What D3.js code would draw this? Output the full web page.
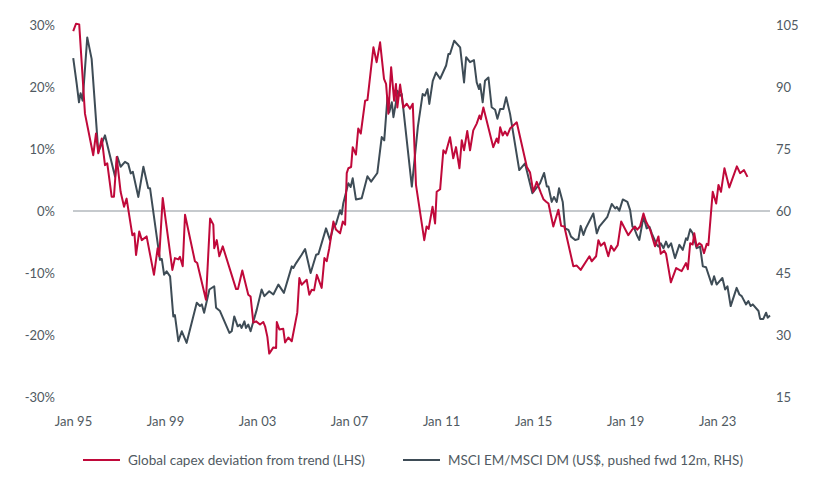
<!DOCTYPE html>
<html><head><meta charset="utf-8">
<script src="https://cdn.jsdelivr.net/npm/d3@7"></script>
<style>
html,body{margin:0;padding:0;background:#fff;}
svg text{font-family:Lato,"Open Sans",sans-serif;fill:#505a62;}
</style></head>
<body>
<svg id="chart" width="821" height="486"></svg>
<script>
// Global capex deviation from trend (LHS, %) : [decimal year, value]
const capexYears = [1995.01,1995.13,1995.27,1995.52,1995.88,1996.00,1996.10,1996.25,1996.39,1996.49,1996.68,1996.78,1996.90,1997.07,1997.22,1997.33,1997.58,1997.67,1997.74,1997.88,1997.99,1998.20,1998.52,1998.68,1998.75,1998.90,1999.32,1999.43,1999.58,1999.65,1999.77,1999.87,2000.30,2000.40,2000.78,2000.96,2001.10,2001.14,2001.25,2001.36,2001.51,2002.09,2002.17,2002.36,2002.62,2002.72,2002.84,2002.96,2003.13,2003.27,2003.35,2003.45,2003.53,2003.71,2003.83,2003.86,2003.97,2004.14,2004.22,2004.36,2004.51,2004.75,2004.84,2004.94,2005.16,2005.27,2005.38,2005.48,2005.60,2005.81,2005.93,2006.03,2006.14,2006.32,2006.43,2006.61,2006.73,2006.83,2006.90,2006.97,2007.09,2007.16,2007.30,2007.40,2007.51,2007.70,2007.80,2008.06,2008.20,2008.35,2008.52,2008.61,2008.71,2008.83,2008.96,2009.04,2009.10,2009.22,2009.36,2009.51,2009.65,2009.77,2009.91,2010.27,2010.37,2010.46,2010.63,2010.74,2010.81,2010.96,2011.10,2011.20,2011.39,2011.53,2011.65,2011.80,2011.90,2012.00,2012.14,2012.26,2012.40,2012.55,2012.67,2012.73,2012.84,2013.27,2013.42,2013.49,2013.57,2013.68,2013.78,2013.88,2014.00,2014.14,2014.29,2014.73,2014.87,2015.01,2015.16,2015.33,2015.45,2015.57,2015.67,2015.88,2016.10,2016.22,2016.36,2016.75,2016.90,2017.07,2017.45,2017.55,2017.74,2017.84,2017.94,2018.10,2018.27,2018.39,2018.52,2018.68,2018.83,2019.14,2019.29,2019.43,2019.53,2019.65,2019.80,2019.91,2020.09,2020.30,2020.45,2020.55,2020.70,2020.78,2020.99,2021.22,2021.36,2021.46,2021.65,2021.73,2021.83,2021.94,2022.01,2022.11,2022.23,2022.33,2022.43,2022.55,2022.62,2022.81,2022.96,2023.06,2023.17,2023.32,2023.53,2023.86,2024.00,2024.17,2024.32];
const capexValues = [29.0,30.2,30.1,15.7,9.0,12.5,9.3,11.7,7.4,7.7,2.3,2.3,8.7,3.1,0.7,2.0,-3.9,-3.6,-7.1,-3.3,-4.7,-4.1,-10.3,-6.0,-7.3,2.1,-9.5,-7.6,-7.8,-7.4,-8.9,-0.6,-8.1,-8.4,-14.3,-1.2,-2.2,-6.0,-4.7,-7.3,-5.7,-12.6,-12.6,-9.6,-13.5,-13.8,-18.0,-17.8,-18.3,-17.9,-18.6,-20.3,-23.0,-22.0,-22.1,-17.9,-19.1,-19.0,-21.2,-20.4,-21.0,-16.4,-10.8,-11.9,-11.1,-13.5,-12.7,-12.8,-10.3,-12.4,-7.6,-8.1,-6.0,-1.7,-3.0,-3.6,-1.7,-2.2,6.1,6.9,7.1,10.3,9.1,13.3,12.5,17.8,17.9,26.4,24.0,27.2,21.3,20.5,15.7,23.2,17.8,20.5,16.7,20.4,16.7,17.3,16.5,17.3,4.2,-4.7,-2.5,-2.9,0.7,-2.0,3.1,3.5,9.8,9.3,11.9,8.5,10.3,6.9,11.4,9.8,12.9,9.8,13.0,14.1,15.4,14.8,16.7,10.3,11.7,11.0,13.5,12.2,12.8,12.2,13.3,13.8,14.3,7.1,6.2,3.1,4.7,3.0,1.9,1.5,1.2,-2.5,0.2,-2.4,-2.5,-8.9,-8.8,-9.5,-7.3,-8.1,-7.3,-4.7,-5.6,-5.1,-7.3,-5.6,-6.4,-5.5,-1.7,-3.9,-3.1,-2.5,-3.0,-2.5,-0.4,-1.7,-3.0,-5.7,-4.1,-6.9,-6.4,-6.9,-11.5,-9.2,-9.5,-9.7,-8.4,-9.4,-5.2,-5.4,-3.6,-5.7,-5.2,-5.5,-6.8,-5.3,-5.5,3.1,1.2,4.2,3.1,6.9,3.8,7.2,6.1,6.6,5.5];

// MSCI EM/MSCI DM (US$, pushed fwd 12m, RHS)
const msciYears = [1995.01,1995.16,1995.26,1995.33,1995.42,1995.62,1995.81,1996.10,1996.25,1996.39,1996.83,1996.93,1997.07,1997.26,1997.40,1997.51,1997.60,1997.84,1998.06,1998.27,1998.35,1998.78,1998.86,1998.96,1999.07,1999.22,1999.36,1999.43,1999.58,1999.73,1999.94,2000.38,2000.52,2000.60,2000.70,2000.93,2001.14,2001.22,2001.39,2001.80,2001.90,2002.01,2002.16,2002.26,2002.33,2002.45,2002.52,2002.62,2002.72,2002.99,2003.20,2003.32,2003.53,2003.71,2003.93,2004.17,2004.51,2004.58,2004.70,2004.94,2005.09,2005.33,2005.57,2005.67,2006.00,2006.17,2006.32,2006.43,2006.61,2006.68,2006.75,2006.97,2007.07,2007.16,2007.30,2007.55,2007.80,2007.96,2008.23,2008.42,2008.53,2008.67,2008.75,2008.86,2008.93,2009.04,2009.10,2009.22,2009.29,2009.73,2009.99,2010.20,2010.30,2010.41,2010.49,2010.64,2010.78,2010.96,2011.22,2011.32,2011.39,2011.57,2011.83,2012.00,2012.09,2012.26,2012.43,2012.55,2012.65,2012.70,2012.81,2012.91,2013.06,2013.20,2013.35,2013.45,2013.57,2013.71,2013.83,2014.00,2014.40,2014.65,2014.97,2015.30,2015.48,2015.60,2015.67,2015.81,2015.91,2016.03,2016.13,2016.29,2016.39,2016.54,2016.65,2016.83,2016.97,2017.07,2017.19,2017.29,2017.62,2017.77,2017.88,2018.23,2018.42,2018.57,2018.64,2018.75,2018.90,2019.10,2019.22,2019.32,2019.39,2019.51,2019.62,2019.80,2019.94,2020.06,2020.16,2020.38,2020.45,2020.55,2020.67,2020.78,2020.88,2021.00,2021.17,2021.36,2021.51,2021.65,2021.71,2021.83,2021.94,2022.11,2022.26,2022.38,2022.52,2022.77,2022.87,2022.98,2023.23,2023.35,2023.45,2023.59,2023.85,2023.97,2024.07,2024.26,2024.36,2024.46,2024.55,2024.80,2024.87,2025.01,2025.13,2025.20,2025.30];
const msciValues = [97.0,90.8,86.3,88.5,86.7,102.0,96.8,74.3,76.3,78.3,68.3,73.1,70.7,71.9,71.4,69.1,69.5,63.4,70.7,65.5,65.5,48.2,48.4,44.6,45.4,44.2,34.5,34.8,28.5,30.9,28.1,37.8,37.0,37.4,35.4,41.0,41.8,36.6,35.8,30.5,30.9,34.5,32.1,32.5,31.7,33.3,31.7,32.5,30.9,36.2,41.0,39.4,40.6,39.8,42.2,40.2,46.6,46.2,47.4,49.4,50.8,45.0,49.4,49.6,55.8,53.0,56.2,56.8,60.2,59.2,61.9,66.7,65.8,67.9,62.8,63.1,68.4,67.1,69.2,77.9,77.1,87.5,83.9,86.3,82.7,86.3,89.1,87.9,88.3,65.9,80.3,88.3,87.9,89.5,85.9,91.5,93.5,92.0,95.2,98.0,98.0,101.2,99.6,91.1,97.2,96.0,96.5,91.1,89.5,90.7,86.3,91.5,92.3,85.1,84.5,82.3,84.7,84.7,87.5,83.5,69.9,71.5,64.3,66.7,69.2,65.9,65.9,62.2,63.4,62.2,65.5,62.2,55.8,55.4,53.8,53.0,53.2,56.4,54.2,55.8,59.4,54.6,56.2,58.6,61.7,60.6,61.0,60.1,62.8,62.2,60.2,56.2,56.0,54.2,53.0,58.6,55.8,56.2,54.6,51.8,51.4,52.2,51.0,52.6,51.2,52.2,48.6,51.8,50.6,53.4,53.0,55.6,54.6,51.0,51.4,46.6,46.4,42.2,44.2,42.2,43.8,41.0,41.8,37.0,41.4,39.8,39.4,37.4,38.2,37.0,37.4,35.8,33.9,33.9,35.4,34.2,34.7];

const xTickYears = [1995,1999,2003,2007,2011,2015,2019,2023];
const xTickLabels = ["Jan 95","Jan 99","Jan 03","Jan 07","Jan 11","Jan 15","Jan 19","Jan 23"];
const leftTicks = [-30,-20,-10,0,10,20,30];
const rightTicks = [15,30,45,60,75,90,105];
const seriesNames = ["Global capex deviation from trend (LHS)","MSCI EM/MSCI DM (US$, pushed fwd 12m, RHS)"];
const seriesColors = ["#c0093a","#3e4c56"];

const svg = d3.select("#chart");
const x = d3.scaleLinear().domain([1995, 2025.3]).range([73, 770]);
const yL = d3.scaleLinear().domain([-30, 30]).range([397, 25]);
const yR = d3.scaleLinear().domain([15, 105]).range([397, 25]);

// left axis
const gl = svg.append("g").attr("transform","translate(55,0)")
  .call(d3.axisLeft(yL).tickValues(leftTicks).tickSize(0).tickPadding(0).tickFormat(d => d + "%"));
gl.select(".domain").remove();
gl.selectAll("text").attr("font-size", 13).attr("dy","0.35em");

// right axis
const gr = svg.append("g").attr("transform","translate(776,0)")
  .call(d3.axisRight(yR).tickValues(rightTicks).tickSize(0).tickPadding(0));
gr.select(".domain").remove();
gr.selectAll("text").attr("font-size", 13).attr("dy","0.35em");

// x axis
const gx = svg.append("g").attr("transform","translate(0,417)")
  .call(d3.axisBottom(x).tickValues(xTickYears).tickSize(0).tickPadding(0)
    .tickFormat((d,i) => xTickLabels[i]));
gx.select(".domain").remove();
gx.selectAll("text").attr("font-size", 13).attr("dy","0.71em");

// zero line
svg.append("line").attr("x1", x(1995)).attr("x2", x(2025.3))
  .attr("y1", yL(0)).attr("y2", yL(0)).attr("stroke","#8c959c").attr("stroke-width",1);

const capex = capexYears.map((t,i) => [t, capexValues[i]]);
const msci = msciYears.map((t,i) => [t, msciValues[i]]);

svg.append("path").datum(msci)
  .attr("fill","none").attr("stroke",seriesColors[1]).attr("stroke-width",2).attr("stroke-linejoin","round")
  .attr("d", d3.line().x(d => x(d[0])).y(d => yR(d[1])));
svg.append("path").datum(capex)
  .attr("fill","none").attr("stroke",seriesColors[0]).attr("stroke-width",2).attr("stroke-linejoin","round")
  .attr("d", d3.line().x(d => x(d[0])).y(d => yL(d[1])));

// legend
const legendX = [83, 403];
const legendW = [237, 295];
seriesNames.forEach((n,i) => {
  const g = svg.append("g").attr("transform", `translate(${legendX[i]},460)`);
  g.append("line").attr("x1",0).attr("x2",37).attr("y1",0).attr("y2",0)
    .attr("stroke",seriesColors[i]).attr("stroke-width",2);
  g.append("text").attr("x",45).attr("y",0).attr("dy","0.35em").attr("font-size",13)
    .attr("textLength", legendW[i]).attr("lengthAdjust","spacingAndGlyphs").text(n);
});
</script>
</body></html>
